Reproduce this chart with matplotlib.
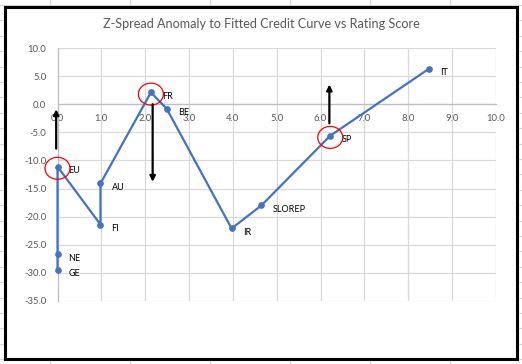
import numpy as np
import matplotlib
matplotlib.use("Agg")
from matplotlib import pyplot as plt
from matplotlib.patches import Ellipse, Rectangle
from matplotlib.lines import Line2D

plt.rcParams['font.family'] = ['Lato', 'DejaVu Sans']

# rating score vs z-spread anomaly (bp), in plotting order
names = ["GE", "NE", "EU", "FI", "AU", "FR", "BE", "IR", "SLOREP", "SP", "IT"]
rating = [0.0, 0.0, 0.0, 0.98, 0.98, 2.13, 2.49, 3.97, 4.65, 6.22, 8.47]
anomaly = [-29.4, -26.7, -11.1, -21.4, -14.1, 2.1, -0.8, -22.1, -18.0, -5.6, 6.3]

# highlighted points and hand-drawn arrows (x, y_start, y_end)
circled = ["EU", "FR", "SP"]
arrows = [(-0.03, -7.9, -0.9), (2.17, 0.0, -13.8), (6.2, -3.4, 3.5)]

xticks = np.arange(0, 11, 1)
yticks = np.arange(-35, 11, 5)

W, H = 522, 364
fig = plt.figure(figsize=(W / 100, H / 100), dpi=100)
fig.patch.set_facecolor("white")

# spreadsheet cells behind the chart
cell = "#d4d4d4"
for cx in [50, 130, 210, 290, 370, 450]:
    fig.add_artist(Line2D([cx / W, cx / W], [0, 1], color=cell, lw=0.8, zorder=-3))
for ry in np.arange(5, H, 15.4):
    fig.add_artist(Line2D([0, 1], [1 - ry / H, 1 - ry / H], color=cell, lw=0.8, zorder=-3))

# chart area
fig.add_artist(Rectangle((5 / W, 1 - 359 / H), 512 / W, 352 / H,
                         facecolor="white", edgecolor="black", lw=2.2,
                         transform=fig.transFigure, zorder=-2))

fig.text(261 / W, 1 - 24 / H, "Z-Spread Anomaly to Fitted Credit Curve vs Rating Score",
         ha="center", va="center", color="#595959", fontsize=9.1)

ax = fig.add_axes([57.5 / W, 1 - 301 / H, (496 - 57.5) / W, (301 - 48) / H])
ax.set_facecolor("none")
ax.set_xlim(0, 10)
ax.set_ylim(-35, 10)
ax.set_xticks(xticks)
ax.set_yticks(yticks)
ax.set_xticklabels(["%.1f" % v for v in xticks])
ax.set_yticklabels(["%.1f" % v for v in yticks])
ax.tick_params(length=0, labelsize=6.8, labelcolor="#595959")
ax.tick_params(axis="x", pad=7)
ax.tick_params(axis="y", pad=8)
ax.grid(True, color="#d9d9d9", lw=0.9)
ax.set_axisbelow(True)
ax.spines["bottom"].set_position(("data", 0))
ax.spines["bottom"].set_color("#bfbfbf")
ax.spines["left"].set_color("#bfbfbf")
ax.spines["top"].set_visible(False)
ax.spines["right"].set_visible(False)
for s in ["bottom", "left"]:
    ax.spines[s].set_linewidth(0.9)

ax.plot(rating, anomaly, color="#4472C4", lw=1.6, marker="o", ms=3.8,
        clip_on=False, zorder=3)

for n, x, y in zip(names, rating, anomaly):
    ax.annotate(n, (x, y), xytext=(8, -3), textcoords="offset points",
                ha="left", va="center", fontsize=6.5, color="black")

for n, x, y in zip(names, rating, anomaly):
    if n in circled:
        ax.add_patch(Ellipse((x, y - 0.3), 0.57, 3.9, fill=False,
                             edgecolor="red", lw=0.9, zorder=4, clip_on=False))

for x, y0, y1 in arrows:
    ax.annotate("", xy=(x, y1), xytext=(x, y0),
                arrowprops=dict(arrowstyle="-|>", color="black", lw=1.6,
                                mutation_scale=8, shrinkA=0, shrinkB=0),
                zorder=5, annotation_clip=False)

fig.savefig("out.png", dpi=100)
